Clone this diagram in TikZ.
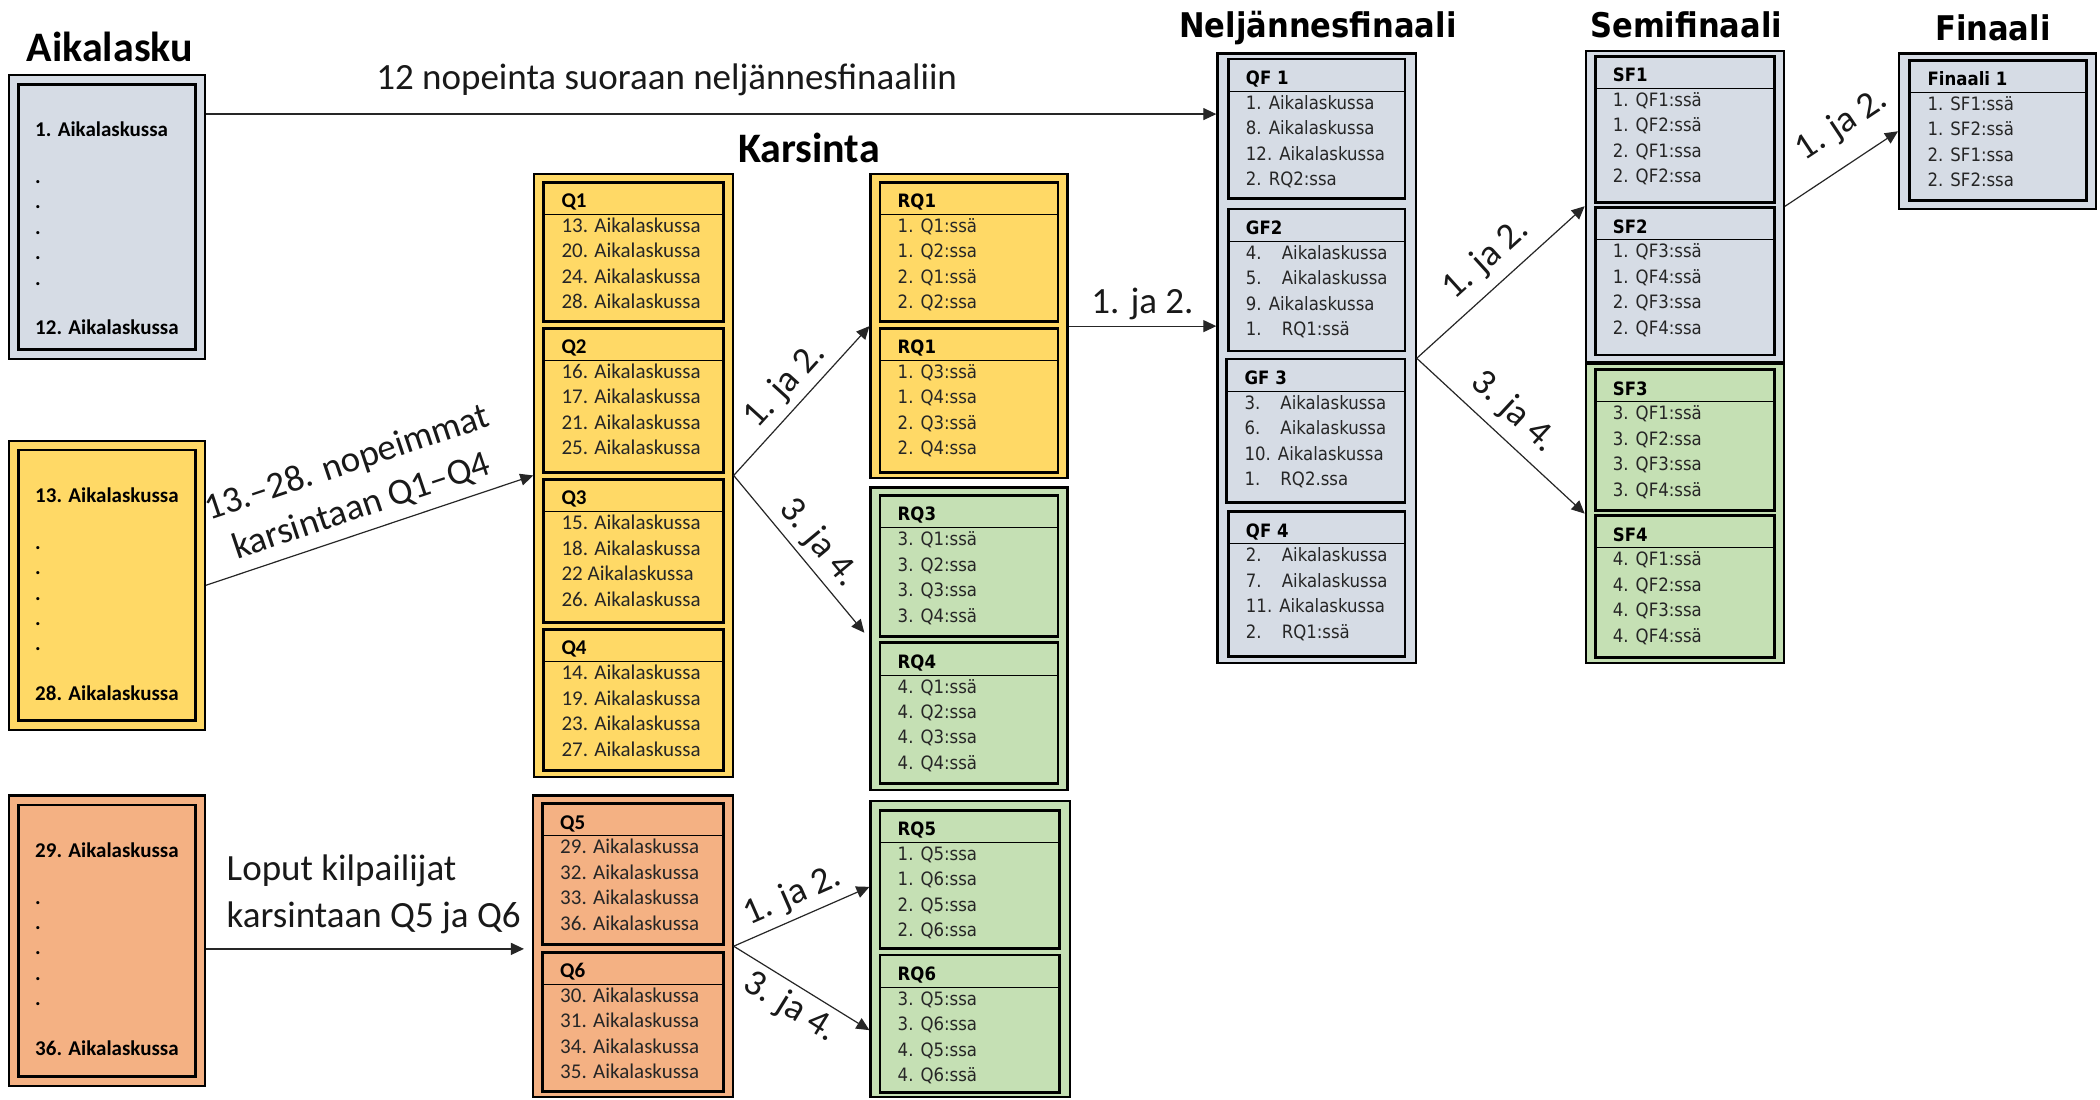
\documentclass[tikz,border=0pt]{standalone}
\usepackage{fontspec}
\setmainfont{Carlito}
\newfontfamily\dv[FakeStretch=0.9]{DejaVu Sans}
\usetikzlibrary{fit,arrows.meta,calc}
\definecolor{cblue}{HTML}{D6DCE5}
\definecolor{cyel}{HTML}{FFD966}
\definecolor{cora}{HTML}{F4B183}
\definecolor{cgrn}{HTML}{C5E0B4}
\newcommand\qfont{\fontsize{10.5}{12.5}\selectfont}
\newcommand\dfont{\dv\fontsize{9.2}{11}\selectfont}
\newcommand\ind[1]{\makebox[1.95em][l]{#1}}
\tikzset{
  obox/.style={draw=black, line width=1.1pt, inner sep=0pt},
  ibx/.style={draw=black, line width=1.4pt, inner sep=0pt},
  arr/.style={draw=black!85, line width=0.6pt, -{Triangle[length=6.5pt,width=6pt]}},
  lbl/.style={font=\fontsize{18.5}{22}\selectfont, inner sep=2pt, text=black!90},
  lt/.style={anchor=base west, inner sep=0pt, font=\qfont\bfseries},
  ttlC/.style={anchor=base, inner sep=0pt, font=\fontsize{21}{24}\selectfont\bfseries},
  ttlD/.style={anchor=base, inner sep=0pt, font=\dv\fontsize{17}{20}\selectfont\bfseries},
}
% #1 name, #2 x1, #3 y1, #4 x2, #5 y2, #6 font, #7 title, #8 rows
\newcommand\ibox[8]{%
  \node[ibx, fit={(#2,#3)(#4,#5)}] (#1) {};
  \draw[line width=0.5pt] (#2,#3+24) -- (#4,#3+24);
  \node[anchor=base west, inner sep=0pt, font=#6\bfseries] (#1t) at (#2+13,#3+19) {#7};
  \foreach \rw [count=\i] in {#8}{
    \node[anchor=base west, inner sep=0pt, font=#6, text=black!85] (#1r\i) at (#2+13,#3+18.5+19*\i) {\rw};
  }
}
% left column box: #1 name, #2 y1, #3 y2, #4 colour, #5 first, #6 last
\newcommand\lbox[6]{%
  \node[obox, fill=#4, fit={(7,#2)(153,#3)}] (#1) {};
  \node[ibx, fit={(14,#2+7)(146,#3-7)}] (#1i) {};
  \node[lt] (#1f) at (26,#2+46) {#5};
  \foreach \k in {1,...,5}{
    \node[lt] (#1d\k) at (26,#2+62+19*\k) {.};
  }
  \node[lt] (#1l) at (26,#2+194) {#6};
}
\begin{document}
\begin{tikzpicture}[x=0.6696pt,y=-0.6696pt]
\fill[white] (0,0) rectangle (1568,821);
\useasboundingbox (0,0) rectangle (1568,821);

% titles
\node[ttlC] (tA) at (82,46) {Aikalasku};
\node[ttlC] (tK) at (604,121) {Karsinta};
\node[ttlD] (tN) at (984,28) {Neljännesfinaali};
\node[ttlD] (tS) at (1259,28) {Semifinaali};
\node[ttlD] (tF) at (1488,30) {Finaali};

% left column
\lbox{A}{56}{268}{cblue}{1. Aikalaskussa}{12. Aikalaskussa}
\lbox{Y}{329}{545}{cyel}{13. Aikalaskussa}{28. Aikalaskussa}
\lbox{O}{594}{811}{cora}{29. Aikalaskussa}{36. Aikalaskussa}

% Q1-Q4
\node[obox, fill=cyel, fit={(399,130)(547,580)}] (Q14) {};
\ibox{Qa}{406}{136}{540}{240}{\qfont}{Q1}{13. Aikalaskussa,20. Aikalaskussa,24. Aikalaskussa,28. Aikalaskussa}
\ibox{Qb}{406}{245}{540}{353}{\qfont}{Q2}{16. Aikalaskussa,17. Aikalaskussa,21. Aikalaskussa,25. Aikalaskussa}
\ibox{Qc}{406}{358}{540}{465}{\qfont}{Q3}{15. Aikalaskussa,18. Aikalaskussa,22 Aikalaskussa,26. Aikalaskussa}
\ibox{Qd}{406}{470}{540}{575}{\qfont}{Q4}{14. Aikalaskussa,19. Aikalaskussa,23. Aikalaskussa,27. Aikalaskussa}

% Q5-Q6
\node[obox, fill=cora, fit={(398,594)(547,819)}] (Q56) {};
\ibox{Qe}{405}{600}{540}{705}{\qfont}{Q5}{29. Aikalaskussa,32. Aikalaskussa,33. Aikalaskussa,36. Aikalaskussa}
\ibox{Qf}{405}{711}{540}{815}{\qfont}{Q6}{30. Aikalaskussa,31. Aikalaskussa,34. Aikalaskussa,35. Aikalaskussa}

% RQ boxes
\node[obox, fill=cyel, fit={(650,130)(797,357)}] (RQ12) {};
\ibox{Ra}{657}{136}{790}{240}{\dfont}{RQ1}{1. Q1:ssä,1. Q2:ssa,2. Q1:ssä,2. Q2:ssa}
\ibox{Rb}{657}{245}{790}{353}{\dfont}{RQ1}{1. Q3:ssä,1. Q4:ssa,2. Q3:ssä,2. Q4:ssa}

\node[obox, fill=cgrn, fit={(650,364)(797,590)}] (RQ34) {};
\ibox{Rc}{657}{370}{790}{475}{\dfont}{RQ3}{3. Q1:ssä,3. Q2:ssa,3. Q3:ssa,3. Q4:ssä}
\ibox{Rd}{657}{480}{790}{585}{\dfont}{RQ4}{4. Q1:ssä,4. Q2:ssa,4. Q3:ssa,4. Q4:ssä}

\node[obox, fill=cgrn, fit={(650,598)(799,819)}] (RQ56) {};
\ibox{Re}{657}{605}{791}{708}{\dfont}{RQ5}{1. Q5:ssa,1. Q6:ssa,2. Q5:ssa,2. Q6:ssa}
\ibox{Rf}{657}{713}{791}{816}{\dfont}{RQ6}{3. Q5:ssa,3. Q6:ssa,4. Q5:ssa,4. Q6:ssä}

% quarter finals
\node[obox, fill=cblue, fit={(909,40)(1057,495)}] (QF) {};
\ibox{Fa}{917}{44}{1049}{148}{\dfont}{QF 1}{1. Aikalaskussa,8. Aikalaskussa,12. Aikalaskussa,2. RQ2:ssa}
\ibox{Fb}{917}{156}{1049}{262}{\dfont}{GF2}{{\ind{4.}Aikalaskussa},{\ind{5.}Aikalaskussa},9. Aikalaskussa,{\ind{1.}RQ1:ssä}}
\ibox{Fc}{916}{268}{1049}{375}{\dfont}{GF 3}{{\ind{3.}Aikalaskussa},{\ind{6.}Aikalaskussa},10. Aikalaskussa,{\ind{1.}RQ2.ssa}}
\ibox{Fd}{917}{382}{1049}{490}{\dfont}{QF 4}{{\ind{2.}Aikalaskussa},{\ind{7.}Aikalaskussa},11. Aikalaskussa,{\ind{2.}RQ1:ssä}}

% semi finals
\node[obox, fill=cblue, fit={(1184,38)(1332,270)}] (SF12) {};
\ibox{Sa}{1191}{42}{1325}{151}{\dfont}{SF1}{1. QF1:ssä,1. QF2:ssä,2. QF1:ssa,2. QF2:ssa}
\ibox{Sb}{1191}{155}{1325}{265}{\dfont}{SF2}{1. QF3:ssä,1. QF4:ssä,2. QF3:ssa,2. QF4:ssa}

\node[obox, fill=cgrn, fit={(1184,272)(1332,495)}] (SF34) {};
\ibox{Sc}{1191}{276}{1325}{381}{\dfont}{SF3}{3. QF1:ssä,3. QF2:ssa,3. QF3:ssa,3. QF4:ssä}
\ibox{Sd}{1191}{385}{1325}{491}{\dfont}{SF4}{4. QF1:ssä,4. QF2:ssa,4. QF3:ssa,4. QF4:ssä}

% final
\node[obox, fill=cblue, fit={(1418,40)(1565,156)}] (FIN) {};
\ibox{Ga}{1426}{45}{1558}{150}{\dfont}{Finaali 1}{1. SF1:ssä,1. SF2:ssä,2. SF1:ssa,2. SF2:ssa}

% connectors
\coordinate (a0) at ($(A.north east)+(0,30)$);
\draw[arr] (a0) -- node[lbl, pos=0.456, above=7pt] (l1) {12 nopeinta suoraan neljännesfinaaliin} (a0 -| QF.west);

\draw[arr] (Y.east) -- node[lbl, sloped, above=2.5pt, pos=0.5, align=center, font=\fontsize{18.5}{23}\selectfont] (l2) {13.–28. nopeimmat\\karsintaan Q1–Q4} (Q14.west);

\coordinate (o0) at ($(O.east)+(0,6)$);
\draw[arr, shorten >=4pt] (o0) -- (o0 -| Q56.west);
\node[lbl, anchor=west, align=left, font=\fontsize{18.5}{23.5}\selectfont] (l3) at (166,668) {Loput kilpailijat\\karsintaan Q5 ja Q6};

\draw[arr] (Q14.east) -- node[lbl, sloped, above=1pt] (l4) {1. ja 2.} (RQ12.west);
\draw[arr, shorten >=4pt] (Q14.east) -- node[lbl, sloped, above=1pt] (l5) {3. ja 4.} (RQ34.west);

\coordinate (r5) at ($(RQ56.north west)+(0,65)$);
\coordinate (r6) at ($(RQ56.north west)+(0,172)$);
\draw[arr] (Q56.east) -- node[lbl, sloped, above=1pt] (l6) {1. ja 2.} (r5);
\draw[arr] (Q56.east) -- node[lbl, sloped, below=1pt] (l7) {3. ja 4.} (r6);

\draw[arr] (RQ12.east) -- node[lbl, above=1pt] (l8) {1. ja 2.} (RQ12.east -| QF.west);

\draw[arr] (QF.east) -- node[lbl, sloped, above=3pt, pos=0.52] (l9) {1. ja 2.} (SF12.west);
\draw[arr] (QF.east) -- node[lbl, sloped, above=3pt, pos=0.47] (l10) {3. ja 4.} (SF34.west);

\draw[arr] (SF12.east) -- node[lbl, sloped, above=8pt, pos=0.68] (l11) {1. ja 2.} (FIN.west);
\end{tikzpicture}
\end{document}
